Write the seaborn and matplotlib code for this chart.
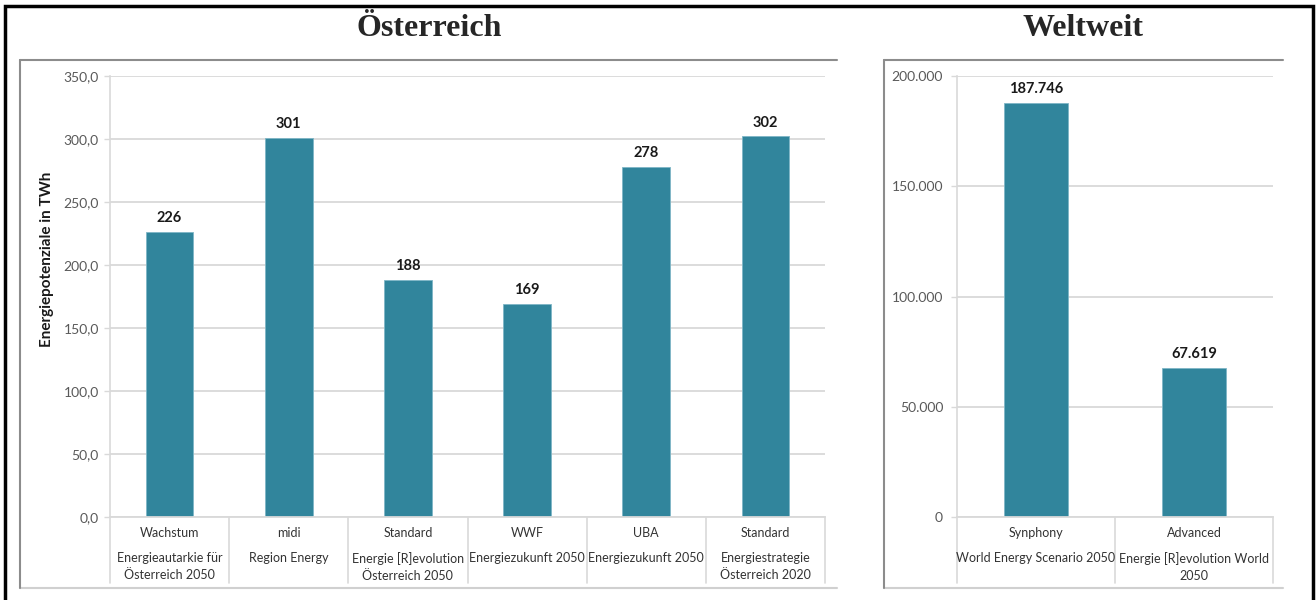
import matplotlib
matplotlib.use("Agg")
import matplotlib.pyplot as plt
from matplotlib.patches import Rectangle
from matplotlib.lines import Line2D
import seaborn as sns

# Austria scenarios
at_scenarios = ["Wachstum", "midi", "Standard", "WWF", "UBA", "Standard"]
at_studies = ["Energieautarkie für\nÖsterreich 2050", "Region Energy",
              "Energie [R]evolution\nÖsterreich 2050", "Energiezukunft 2050",
              "Energiezukunft 2050", "Energiestrategie\nÖsterreich 2020"]
at_values = [226, 301, 188, 169, 278, 302]
at_yticks = [0, 50, 100, 150, 200, 250, 300, 350]

# Worldwide scenarios
world_scenarios = ["Synphony", "Advanced"]
world_studies = ["World Energy Scenario 2050", "Energie [R]evolution World\n2050"]
world_values = [187746, 67619]
world_yticks = [0, 50000, 100000, 150000, 200000]

BAR = "#31859C"
GRID = "#D9D9D9"
TXT = "#595959"

sns.set_theme(style="white")
plt.rcParams["font.family"] = ["Lato", "DejaVu Sans"]

fig = plt.figure(figsize=(13.16, 6.0), dpi=100)
W, H = 1316, 600


def fx(px):
    return px / W


def fy(py):
    return 1 - py / H


ax_at = fig.add_axes([fx(110), fy(517), fx(825) - fx(110), fy(76) - fy(517)])
ax_w = fig.add_axes([fx(957), fy(517), fx(1273) - fx(957), fy(76) - fy(517)])


def fmt_at(v):
    return f"{v:.1f}".replace(".", ",")


def fmt_w(v):
    return f"{int(v):,}".replace(",", ".")


def draw_panel(ax, scen, studies, vals, yticks, tick_fmt, label_fmt, tick_pad):
    labels = [f"{i}" for i in range(len(vals))]
    sns.barplot(x=labels, y=vals, ax=ax, color=BAR, width=0.4,
                saturation=1, edgecolor="#7FB6C6", linewidth=0.6)
    ax.set_ylim(yticks[0], yticks[-1])
    ax.set_xlim(-0.5, len(vals) - 0.5)
    ax.set_yticks(yticks)
    ax.set_yticklabels([tick_fmt(v) for v in yticks], color=TXT, fontsize=10)
    ax.tick_params(axis="y", length=4, width=1, color=GRID, pad=tick_pad, left=True)
    ax.set_xticks([])
    ax.set_xlabel("")
    ax.set_ylabel("")
    ax.grid(axis="y", color=GRID, lw=1.3)
    ax.set_axisbelow(True)
    for side in ["top", "right"]:
        ax.spines[side].set_visible(False)
    ax.spines["left"].set_color(GRID)
    ax.spines["left"].set_linewidth(1.2)
    ax.spines["bottom"].set_color(GRID)
    ax.spines["bottom"].set_linewidth(1.3)

    cont = ax.containers[0]
    ax.bar_label(cont, labels=[label_fmt(v) for v in vals], padding=5,
                 fontsize=10.5, fontweight="bold", color="#1A1A1A")

    # category separators below the axis
    trans = ax.get_xaxis_transform()
    for b in range(len(vals) + 1):
        ax.add_line(Line2D([b - 0.5, b - 0.5], [0, -0.15], transform=trans,
                           color=GRID, lw=1.2, clip_on=False))
    for i, (s, st) in enumerate(zip(scen, studies)):
        ax.annotate(s, xy=(i, 0), xycoords=("data", "data"),
                    xytext=(0, -16), textcoords="offset pixels",
                    ha="center", va="center", fontsize=9, color="#333333")
        ax.annotate(st, xy=(i, 0), xycoords=("data", "data"),
                    xytext=(0, -35), textcoords="offset pixels",
                    ha="center", va="top", fontsize=9, color="#333333",
                    linespacing=1.5)


draw_panel(ax_at, at_scenarios, at_studies, at_values, at_yticks,
           fmt_at, lambda v: f"{v}", 4)
draw_panel(ax_w, world_scenarios, world_studies, world_values, world_yticks,
           fmt_w, fmt_w, 6)

fig.text(fx(47), fy(259), "Energiepotenziale in TWh", rotation=90,
         ha="center", va="center", fontsize=11, fontweight="bold",
         color="#1A1A1A")

# panel titles
fig.text(fx(429), fy(29), "Österreich", ha="center", va="center",
         fontsize=23, fontweight="bold", family="Liberation Serif")
fig.text(fx(1083), fy(29), "Weltweit", ha="center", va="center",
         fontsize=23, fontweight="bold", family="Liberation Serif")

# chart boxes (open on the right side)
BOX = "#8C8C8C"
for x0, x1 in [(20, 837), (884, 1283)]:
    fig.add_artist(Line2D([fx(x0), fx(x1)], [fy(60), fy(60)], color=BOX, lw=1.5))
    fig.add_artist(Line2D([fx(x0), fx(x1)], [fy(588), fy(588)], color="#D0D0D0", lw=1.5))
    fig.add_artist(Line2D([fx(x0), fx(x0)], [fy(60), fy(588)], color=BOX, lw=1.5))

# outer frame
fig.add_artist(Rectangle((fx(5), -0.02), fx(1313) - fx(5), fy(6) + 0.02,
                         fill=False, edgecolor="black", lw=2.5,
                         transform=fig.transFigure))

fig.savefig("out.png", dpi=100, facecolor="white")
